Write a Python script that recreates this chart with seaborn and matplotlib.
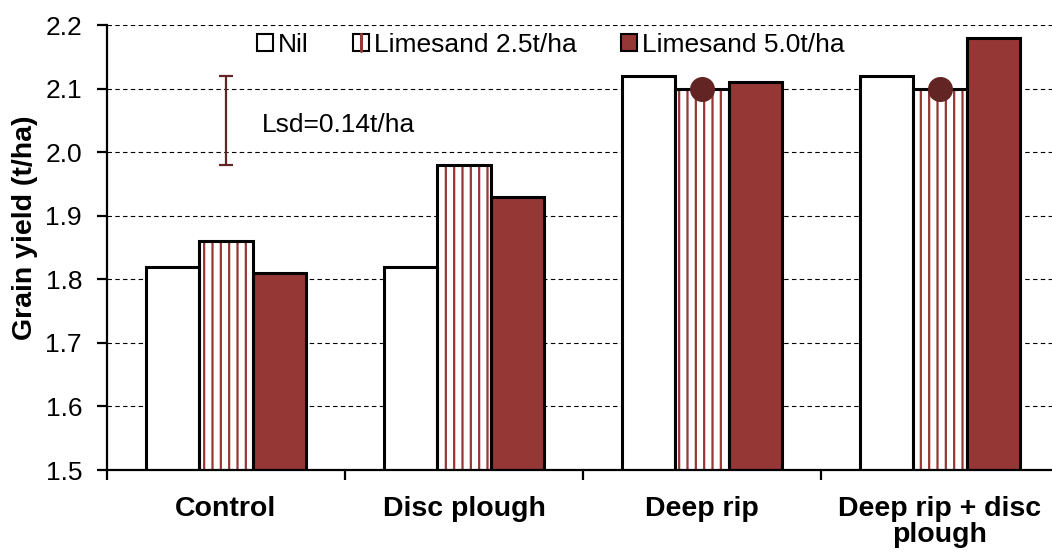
import matplotlib
matplotlib.use("Agg")
import matplotlib.pyplot as plt
import matplotlib.patches as mpatches
import matplotlib.lines as mlines
from matplotlib.legend_handler import HandlerBase
import seaborn as sns
import pandas as pd

categories = ["Control", "Disc plough", "Deep rip", "Deep rip + disc\nplough"]
treatments = ["Nil", "Limesand 2.5t/ha", "Limesand 5.0t/ha"]
nil = [1.82, 1.82, 2.12, 2.12]
lime25 = [1.86, 1.98, 2.10, 2.10]
lime50 = [1.81, 1.93, 2.11, 2.18]
sig_groups = [2, 3]
sig_values = [2.10, 2.10]
lsd_center = 2.05
lsd = 0.14
yticks = [1.5, 1.6, 1.7, 1.8, 1.9, 2.0, 2.1, 2.2]

RED = "#953735"
DARK = "#632523"
FS = 19
FSB = 20.5

rows = []
for i, c in enumerate(categories):
    for t, vals in zip(treatments, [nil, lime25, lime50]):
        rows.append({"cat": c, "trt": t, "y": vals[i]})
df = pd.DataFrame(rows)

sns.set_style("white")
plt.rcParams["font.family"] = ["Liberation Sans", "DejaVu Sans"]
plt.rcParams["hatch.linewidth"] = 1.6
for key in ["text.color", "axes.labelcolor", "xtick.color", "ytick.color",
            "xtick.labelcolor", "ytick.labelcolor"]:
    plt.rcParams[key] = "black"

fig = plt.figure(figsize=(10.52, 5.54), dpi=100)
ax = fig.add_axes([107 / 1052, 84 / 554, 952 / 1052, 445 / 554])

ax.set_axisbelow(True)
ax.yaxis.grid(True, color="black", linestyle=(0, (4, 3)), linewidth=0.8)

palette = {"Nil": "white", "Limesand 2.5t/ha": "white", "Limesand 5.0t/ha": RED}
sns.barplot(data=df, x="cat", y="y", hue="trt", hue_order=treatments,
            order=categories, palette=palette, width=0.67, ax=ax,
            linewidth=0, legend=False, saturation=1)
n = len(categories)
fill_patches = list(ax.patches)
for p in fill_patches[n:2 * n]:
    p.set_hatch("||")
    p.set_edgecolor(RED)
    p.set_linewidth(0)
sns.barplot(data=df, x="cat", y="y", hue="trt", hue_order=treatments,
            order=categories, width=0.67, ax=ax, fill=False,
            color="black", linewidth=2.2, legend=False)
for p in ax.patches[len(fill_patches):]:
    p.set_edgecolor("black")
    p.set_facecolor("none")

ax.plot(sig_groups, sig_values, "o", color=DARK, markersize=17, zorder=5,
        linestyle="none")

ax.errorbar([0], [lsd_center], yerr=[lsd / 2], color=DARK, capsize=5,
            capthick=1.6, elinewidth=1.6, zorder=5)
ax.text(0.15, 2.043, "Lsd=0.14t/ha", fontsize=FS, va="center",
        ha="left", color="black")

ax.set_ylim(1.5, 2.2)
ax.set_xlim(-0.5, 3.5)
ax.set_yticks(yticks)
ax.set_yticklabels([f"{v:.1f}" for v in yticks], fontsize=FS)
ax.set_xticks(range(n))
ax.set_xticklabels(categories, fontsize=FSB, fontweight="bold")
for lbl in ax.get_xticklabels():
    lbl.set_linespacing(1.0)
ax.set_xticks([i - 0.5 for i in range(n + 1)], minor=True)
ax.tick_params(axis="x", which="major", length=0, pad=19)
ax.tick_params(axis="x", which="minor", length=7, width=1.6, color="black",
               direction="out", bottom=True)
ax.tick_params(axis="y", length=7, width=1.6, color="black", direction="out",
               left=True, pad=11)
ax.set_xlabel("")
ax.set_ylabel("Grain yield (t/ha)", fontsize=FSB, fontweight="bold")
ax.yaxis.set_label_coords(-0.073, 0.544)

for s in ["top", "right"]:
    ax.spines[s].set_visible(False)
for s in ["left", "bottom"]:
    ax.spines[s].set_color("black")
    ax.spines[s].set_linewidth(1.6)


class SquareHandler(HandlerBase):
    def __init__(self, face, stripe=False):
        super().__init__()
        self.face = face
        self.stripe = stripe

    def create_artists(self, legend, orig_handle, xdescent, ydescent,
                       width, height, fontsize, trans):
        rect = mpatches.Rectangle((-xdescent, -ydescent), width, height,
                                  facecolor=self.face, edgecolor="black",
                                  linewidth=1.5, transform=trans)
        arts = [rect]
        if self.stripe:
            cx = -xdescent + width / 2
            ln = mlines.Line2D([cx, cx], [-ydescent, -ydescent + height],
                               color=RED, linewidth=2.2, transform=trans)
            arts = [rect, ln]
        return arts


handles = [mpatches.Patch(), mpatches.Patch(), mpatches.Patch()]
handler_map = {
    handles[0]: SquareHandler("white"),
    handles[1]: SquareHandler("white", stripe=True),
    handles[2]: SquareHandler(RED),
}
leg = ax.legend(handles, treatments, loc="center left",
                bbox_to_anchor=(0.1465, 0.955), ncol=3, frameon=False,
                fontsize=FS, handlelength=0.6, handleheight=0.6,
                handletextpad=0.2, columnspacing=1.67, borderaxespad=0,
                handler_map=handler_map)

fig.savefig("out.png", dpi=100)
